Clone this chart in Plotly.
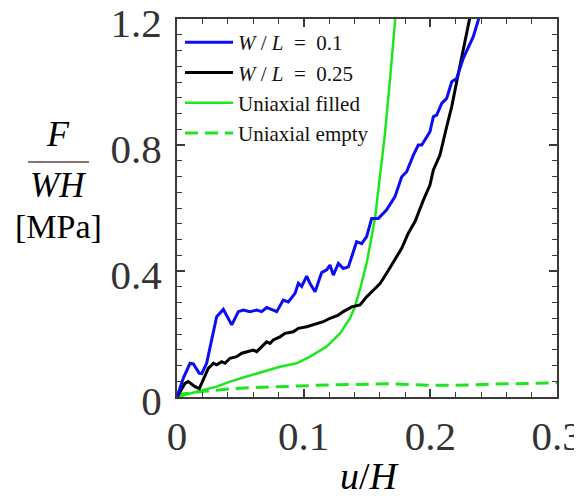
import plotly.graph_objects as go

# ---- data ----
u_blue = [0, 0.005, 0.0103, 0.0129, 0.0176, 0.0195, 0.0234, 0.0274, 0.0313, 0.0366, 0.0392, 0.0432,
          0.0484, 0.0524, 0.0576, 0.0629, 0.0668, 0.0708, 0.076, 0.0787, 0.0839, 0.0879, 0.0932,
          0.0958, 0.0984, 0.1024, 0.105, 0.109, 0.1142, 0.1182, 0.1208, 0.1234, 0.1274, 0.1313,
          0.1353, 0.1379, 0.1418, 0.1458, 0.1497, 0.1537, 0.159, 0.1655, 0.1721, 0.1774, 0.1813,
          0.1866, 0.1905, 0.1932, 0.1997, 0.2024, 0.205, 0.209, 0.2129, 0.2169, 0.2208, 0.226,
          0.23, 0.2339, 0.2379, 0.241]
F_blue = [0, 0.06, 0.107, 0.105, 0.075, 0.074, 0.107, 0.181, 0.255, 0.278, 0.26, 0.229,
          0.271, 0.276, 0.271, 0.276, 0.271, 0.284, 0.276, 0.271, 0.308, 0.302, 0.329,
          0.361, 0.351, 0.384, 0.36, 0.334, 0.395, 0.404, 0.419, 0.387, 0.424, 0.408,
          0.413, 0.445, 0.493, 0.487, 0.509, 0.567, 0.567, 0.594, 0.636, 0.699, 0.715,
          0.768, 0.8, 0.8, 0.842, 0.89, 0.895, 0.932, 0.948, 1.001, 1.011, 1.075,
          1.112, 1.144, 1.197, 1.25]

u_black = [0, 0.0063, 0.0089, 0.0142, 0.0176, 0.0208, 0.0247, 0.0287, 0.0313, 0.0353, 0.0379,
           0.0418, 0.0471, 0.0511, 0.055, 0.0603, 0.0629, 0.0668, 0.0708, 0.0734, 0.076, 0.0813,
           0.0853, 0.0918, 0.0958, 0.1024, 0.1076, 0.1155, 0.1208, 0.1274, 0.1313, 0.1379,
           0.1445, 0.1497, 0.155, 0.1603, 0.1655, 0.1708, 0.1774, 0.1826, 0.1879, 0.1945,
           0.1997, 0.2024, 0.2076, 0.2129, 0.2169, 0.2208, 0.2247, 0.2287, 0.2325]
F_black = [0, 0.043, 0.049, 0.033, 0.027, 0.054, 0.091, 0.107, 0.102, 0.112, 0.107,
           0.123, 0.128, 0.139, 0.144, 0.149, 0.144, 0.16, 0.175, 0.17, 0.181, 0.191,
           0.202, 0.207, 0.218, 0.223, 0.229, 0.239, 0.25, 0.26, 0.271, 0.286,
           0.292, 0.318, 0.339, 0.36, 0.393, 0.43, 0.472, 0.52, 0.557, 0.625,
           0.673, 0.721, 0.768, 0.858, 0.922, 1.001, 1.075, 1.154, 1.23]

u_filled = [0, 0.0103, 0.0208, 0.0313, 0.0418, 0.055, 0.0682, 0.0813, 0.0945, 0.105, 0.1182,
            0.1287, 0.1366, 0.1405, 0.145, 0.15, 0.1563, 0.16, 0.164, 0.168, 0.172, 0.174]
F_filled = [0, 0.012, 0.022, 0.033, 0.049, 0.065, 0.08, 0.096, 0.107, 0.128, 0.16,
            0.202, 0.25, 0.287, 0.35, 0.43, 0.567, 0.69, 0.83, 1.0, 1.2, 1.28]

u_empty = [0, 0.004, 0.010, 0.020, 0.0287, 0.0366, 0.05, 0.08, 0.11, 0.14, 0.17, 0.20,
           0.22, 0.25, 0.27, 0.30]
F_empty = [0, 0.01, 0.012, 0.018, 0.02, 0.024, 0.028, 0.033, 0.037, 0.04, 0.042, 0.037,
           0.037, 0.041, 0.043, 0.045]

x_ticks = [0, 0.1, 0.2, 0.3]
x_ticktext = ["0", "0.1", "0.2", "0.3"]
y_ticks = [0, 0.4, 0.8, 1.2]
y_ticktext = ["0", "0.4", "0.8", "1.2"]

names = ["<i>W</i>\u2005/\u2005<i>L</i>\u2002=\u20020.1",
         "<i>W</i>\u2005/\u2005<i>L</i>\u2002=\u20020.25",
         "Uniaxial filled", "Uniaxial empty"]

SERIF = "Liberation Serif, Times New Roman, serif"
GREEN = "#1ee61e"

fig = go.Figure()
fig.add_trace(go.Scatter(x=u_empty, y=F_empty, mode="lines", name=names[3],
                         line=dict(color=GREEN, width=3, dash="13px,7px"), legendrank=4))
fig.add_trace(go.Scatter(x=u_filled, y=F_filled, mode="lines", name=names[2],
                         line=dict(color=GREEN, width=2.5), legendrank=3))
fig.add_trace(go.Scatter(x=u_black, y=F_black, mode="lines", name=names[1],
                         line=dict(color="#000000", width=3), legendrank=2))
fig.add_trace(go.Scatter(x=u_blue, y=F_blue, mode="lines", name=names[0],
                         line=dict(color="#0c0cf5", width=3), legendrank=1))

# The page body has an 8px default margin, so the figure is drawn 8px in from the corner.
OFF = 8
W, H = 582 - OFF, 499 - OFF
L, T = 177 - OFF, 19 - OFF
R = W - (557 - OFF)
B = H - (397 - OFF)
pw, ph = W - L - R, H - T - B


def px(x):  # screen pixel -> paper x
    return (x - OFF - L) / pw


def py(y):  # screen pixel -> paper y
    return (H - B - (y - OFF)) / ph


axis_common = dict(
    showline=True, linecolor="#3a3a3a", linewidth=2, mirror="ticks",
    ticks="inside", tickcolor="#3a3a3a", ticklen=8, tickwidth=1.5,
    showgrid=False, zeroline=False, automargin=False, ticklabeloverflow="allow",
    tickfont=dict(family=SERIF, size=41, color="#333333"),
)

fig.update_xaxes(range=[0, 0.3], tickvals=x_ticks, ticktext=x_ticktext,
                 minor=dict(dtick=0.02, ticks="inside", ticklen=5, tickcolor="#3a3a3a", tickwidth=1.2),
                 ticklabelstandoff=2, **axis_common)
fig.update_yaxes(range=[0, 1.2], tickvals=y_ticks, ticktext=y_ticktext,
                 minor=dict(dtick=0.05, ticks="inside", ticklen=5, tickcolor="#3a3a3a", tickwidth=1.2),
                 ticklabelstandoff=5, ticklabelshift=4, **axis_common)

ann_common = dict(xref="paper", yref="paper", showarrow=False, xanchor="center")
annotations = [
    dict(text="<i>u</i>/<i>H</i>", x=px(370), y=py(499), yanchor="bottom",
         font=dict(family=SERIF, size=38, color="#000000"), **ann_common),
    dict(text="<i>F</i>", x=px(58), y=py(134), yanchor="middle",
         font=dict(family=SERIF, size=36, color="#000000"), **ann_common),
    dict(text="<i>WH</i>", x=px(58), y=py(186), yanchor="middle",
         font=dict(family=SERIF, size=35, color="#000000"), **ann_common),
    dict(text="[MPa]", x=px(58), y=py(226), yanchor="middle",
         font=dict(family=SERIF, size=34, color="#000000"), **ann_common),
]
shapes = [dict(type="line", xref="paper", yref="paper", x0=px(28), x1=px(89), y0=py(162), y1=py(162),
               line=dict(color="#8a7670", width=2))]

fig.update_layout(
    width=W, height=H, margin=dict(l=L, r=R, t=T, b=B, autoexpand=False),
    paper_bgcolor="white", plot_bgcolor="white",
    showlegend=True,
    legend=dict(x=3 / pw, y=1 - 3 / ph, xanchor="left", yanchor="top", bgcolor="rgba(0,0,0,0)",
                font=dict(family=SERIF, size=21, color="#111111"), itemwidth=48,
                tracegroupgap=0, traceorder="normal"),
    annotations=annotations, shapes=shapes,
)

fig.write_html("out.html")
